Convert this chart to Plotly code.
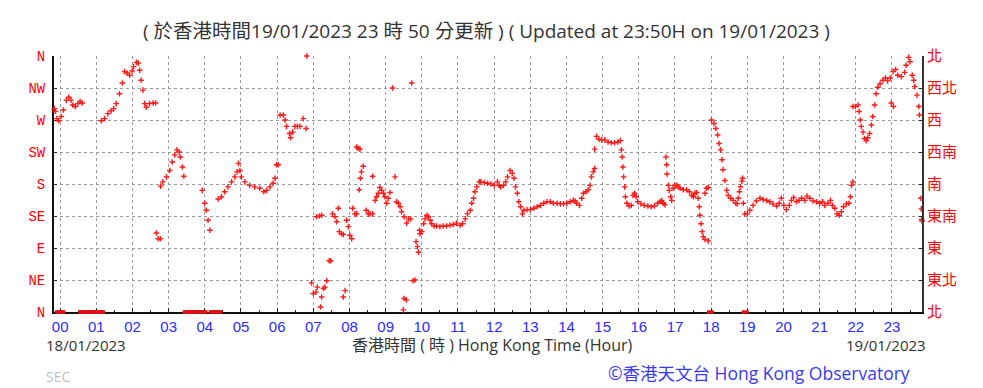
import plotly.graph_objects as go

# ---------------- data (hour of day, wind direction in degrees) ----------------
hours_a = [-0.16, -0.13, -0.09, -0.04, 0.03, 0.09, 0.17, 0.24, 0.30, 0.35, 0.42, 0.49, 0.55, 0.61]
dirs_a = [286, 282, 272, 269, 275, 284, 298, 302, 298, 291, 289, 293, 296, 294]

hours_b = [1.14, 1.23, 1.32, 1.41, 1.48, 1.55, 1.64, 1.72, 1.78, 1.85, 1.92, 1.99, 2.03, 2.11,
           2.16, 2.20, 2.24, 2.29, 2.34, 2.38, 2.47, 2.57, 2.64, 2.66, 2.71, 2.77]
dirs_b = [269, 272, 279, 283, 286, 293, 307, 322, 338, 336, 333, 339, 345, 351,
          350, 340, 326, 312, 293, 288, 293, 294, 294, 111, 103, 103]

hours_c = [2.78, 2.84, 2.94, 3.03, 3.10, 3.17, 3.23, 3.29, 3.32, 3.38, 3.42,
           3.93, 4.00, 4.04, 4.09, 4.14]
dirs_c = [177, 183, 190, 199, 211, 221, 228, 225, 218, 204, 191,
          171, 153, 143, 129, 115]

hours_e = [4.37, 4.46, 4.55, 4.64, 4.74, 4.83, 4.89, 4.93, 4.97, 5.01, 5.11, 5.24, 5.38, 5.52,
           5.63, 5.71, 5.80, 5.89, 5.94, 5.98, 6.03,
           6.08, 6.17, 6.22, 6.26, 6.34, 6.37, 6.43, 6.49, 6.56, 6.63, 6.72, 6.80, 6.82]
dirs_e = [159, 162, 169, 176, 183, 190, 197, 209, 199, 190, 183, 178, 176, 174,
          169, 171, 176, 181, 188, 207, 207,
          277, 277, 270, 261, 251, 245, 253, 261, 261, 261, 272, 258, 360]

hours_f = [6.95, 7.00, 7.07, 7.11, 7.20, 7.23, 7.28, 7.32, 7.37, 7.09, 7.17, 7.23, 7.44, 7.48,
           7.53, 7.60, 7.65, 7.69, 7.72, 7.78, 7.83, 7.83, 7.88, 7.92, 7.97, 8.01, 8.06,
           8.09, 8.15, 8.20, 8.20, 8.24, 8.29, 8.27, 8.30, 8.33, 8.38, 8.46, 8.52, 8.57, 8.64,
           8.64, 8.71, 8.75, 8.80, 8.84, 8.89, 8.94, 8.98, 9.03, 9.07, 9.12, 9.19, 9.26,
           9.30, 9.35, 9.40, 9.44, 9.51, 9.58, 9.63, 9.69, 9.49, 9.51, 9.57, 9.72,
           9.76, 9.81, 9.84, 9.88, 9.91, 9.94, 9.95]
dirs_f = [41, 26, 28, 35, 7, 21, 33, 35, 44, 134, 135, 136, 72, 72,
          138, 134, 127, 146, 113, 110, 109, 21, 30, 129, 120, 108, 103,
          146, 138, 138, 232, 230, 229, 172, 188, 197, 205, 143, 138, 138, 138,
          191, 157, 162, 167, 175, 171, 167, 162, 153, 160, 168, 315, 190,
          155, 153, 148, 141, 134, 125, 131, 131, 3, 19, 17, 322,
          44, 45, 99, 92, 84, 115, 110]

hours_g = [10.00, 10.05, 10.09, 10.14, 10.18, 10.23, 10.27, 10.34, 10.41, 10.50, 10.59, 10.68,
           10.78, 10.87, 10.96, 11.06, 11.13, 11.20, 11.26, 11.34, 11.38, 11.43, 11.47, 11.52,
           11.59, 11.63, 11.73, 11.82, 11.91, 12.00, 12.09, 12.14, 12.18, 12.26, 12.32, 12.37,
           12.44, 12.50, 12.55, 12.59, 12.64, 12.68, 12.73, 12.78, 12.82, 12.91, 13.00, 13.10,
           13.19, 13.28, 13.37, 13.46, 13.55, 13.64, 13.74, 13.83, 13.92, 14.01, 14.10, 14.19,
           14.24, 14.28, 14.36, 14.42, 14.47, 14.54, 14.60, 14.65, 14.69, 14.74, 14.78, 14.78]
dirs_g = [113, 124, 131, 136, 134, 129, 124, 121, 121, 120, 121, 121,
          122, 123, 125, 122, 124, 131, 138, 143, 153, 160, 169, 176,
          183, 183, 182, 181, 180, 178, 183, 178, 176, 178, 183, 190,
          199, 195, 188, 176, 167, 155, 148, 138, 143, 144, 144, 146,
          148, 150, 153, 155, 155, 153, 153, 152, 152, 153, 155, 157,
          156, 153, 150, 160, 167, 169, 172, 178, 190, 197, 202, 229]

hours_h = [14.83, 14.90, 14.97, 15.06, 15.15, 15.24, 15.33, 15.42, 15.49, 15.52, 15.54, 15.56,
           15.58, 15.61, 15.63, 15.67, 15.73, 15.79, 15.84, 15.88, 15.93, 15.97, 16.06, 16.15,
           16.25, 16.34, 16.43, 16.52, 16.59, 16.63, 16.68, 16.72, 16.75, 16.77, 16.78,
           16.82, 16.84, 16.88, 16.91, 16.95, 17.00, 17.05, 17.09, 17.14, 17.23, 17.32, 17.40,
           17.46, 17.51, 17.55, 17.60, 17.64, 17.67, 17.69, 17.72, 17.75, 17.78, 17.83, 17.92,
           17.83, 17.87, 17.92]
dirs_h = [247, 243, 242, 242, 239, 238, 238, 239, 241, 228, 218, 204,
          190, 176, 162, 153, 149, 150, 164, 167, 162, 155, 152, 150,
          149, 148, 149, 153, 155, 157, 153, 151, 218, 207, 194,
          178, 171, 162, 157, 174, 178, 178, 176, 174, 172, 172, 169,
          164, 162, 167, 168, 160, 148, 136, 124, 113, 106, 102, 100,
          167, 174, 175]

hours_i = [18.01, 18.08, 18.13, 18.18, 18.22, 18.26, 18.30, 18.33, 18.38, 18.43, 18.47, 18.54,
           18.61, 18.68, 18.72, 18.75, 18.78, 18.81, 18.85, 18.87, 18.89,
           18.93, 19.00, 19.07, 19.16, 19.25, 19.35, 19.44, 19.53, 19.62, 19.71, 19.81, 19.88,
           19.94, 20.01, 20.08, 20.16, 20.22, 20.28, 20.36, 20.43, 20.50, 20.59, 20.65, 20.73,
           20.82, 20.91, 21.00, 21.08, 21.14, 21.23, 21.30, 21.35, 21.42, 21.48, 21.54, 21.60,
           21.66, 21.74, 21.81, 21.85, 21.88, 21.92]
dirs_i = [270, 265, 258, 249, 237, 228, 214, 200, 185, 171, 164, 160,
          157, 153, 152, 160, 169, 176, 184, 188, 153,
          138, 138, 143, 150, 156, 160, 158, 157, 155, 152, 149, 153,
          160, 150, 144, 150, 157, 161, 155, 157, 160, 157, 163, 160,
          156, 155, 153, 155, 150, 153, 157, 150, 146, 138, 136, 141,
          148, 152, 153, 162, 178, 183]

hours_k = [21.92, 21.99, 22.06, 22.09, 22.12, 22.15, 22.20, 22.24, 22.29, 22.33, 22.38, 22.43,
           22.47, 22.52, 22.56, 22.61, 22.67, 22.75, 22.82, 22.88, 22.95, 22.98, 23.04,
           23.03, 23.10, 23.16, 23.26, 23.35, 23.39, 23.46, 23.50, 23.56, 23.60, 23.63, 23.69,
           23.74, 23.76, 23.80, 23.81, 23.82, 23.83]
dirs_k = [289, 289, 291, 282, 270, 261, 253, 244, 241, 245, 251, 263,
          275, 291, 307, 316, 321, 326, 329, 325, 329, 294, 289,
          338, 341, 333, 331, 337, 347, 358, 352, 333, 326, 317, 305,
          289, 277, 160, 145, 130, 128]

# calm periods (plotted at 0 degrees)
calm_hours = [-0.05, 0.00, 0.05,
              0.60, 0.65, 0.70, 0.75, 0.80, 0.85, 0.90, 0.95, 1.00, 1.05, 1.10, 1.15,
              3.48, 3.53, 3.58, 3.63, 3.68, 3.73, 3.78, 3.83, 3.88, 3.93, 3.98,
              4.20, 4.25, 4.30, 4.35, 4.39, 17.98, 18.94]
calm_dirs = [0] * len(calm_hours)

hour_labels = ["%02d" % h for h in range(24)]
dir_vals = [0, 45, 90, 135, 180, 225, 270, 315, 360]
dir_labels_en = ["N", "NE", "E", "SE", "S", "SW", "W", "NW", "N"]
dir_labels_zh = ["北", "東北", "東", "東南", "南", "西南", "西", "西北", "北"]

# ---------------- figure ----------------
all_h = hours_a + hours_b + hours_c + hours_e + hours_f + hours_g + hours_h + hours_i + hours_k
all_d = dirs_a + dirs_b + dirs_c + dirs_e + dirs_f + dirs_g + dirs_h + dirs_i + dirs_k

RED = "#ff1a1a"
fig = go.Figure()
fig.add_trace(go.Scatter(
    x=all_h, y=all_d, mode="markers", cliponaxis=False,
    marker=dict(symbol="cross-thin", size=4, line=dict(width=1.4, color=RED)),
    showlegend=False))
fig.add_trace(go.Scatter(
    x=calm_hours, y=calm_dirs, mode="markers", cliponaxis=False,
    marker=dict(symbol="line-ew", size=5, line=dict(width=3.5, color="#dd1111")),
    hoverinfo="skip", showlegend=False))
# invisible trace to carry the right-hand axis
fig.add_trace(go.Scatter(x=[0], y=[0], yaxis="y2", mode="markers",
                         marker=dict(opacity=0), hoverinfo="skip", showlegend=False))

XR = [-0.17, 23.83]
grid = dict(showgrid=True, gridcolor="#9a9a9a", gridwidth=1, griddash="dot")

fig.update_layout(
    width=983, height=388,
    margin=dict(l=54, r=61, t=56, b=76),
    paper_bgcolor="white", plot_bgcolor="white",
    xaxis=dict(range=XR, tickmode="array", tickvals=list(range(24)), ticktext=hour_labels,
               tickfont=dict(family="Liberation Sans, Arial, sans-serif", size=15, color="#2b2bff"),
               ticks="inside", ticklen=4, tickcolor="#222", tickwidth=1,
               minor=dict(tickmode="array", tickvals=[h + 0.5 for h in range(24)],
                          ticks="inside", ticklen=2, tickcolor="#222", showgrid=False),
               showline=True, linecolor="#111", linewidth=2, zeroline=False,
               layer="below traces", **grid),
    yaxis=dict(range=[0, 360], tickmode="array", tickvals=dir_vals, ticktext=dir_labels_en,
               tickfont=dict(family="Liberation Mono, Courier New, monospace", size=14, color="#ff0000"),
               ticks="inside", ticklen=3, tickcolor="#222",
               showline=True, linecolor="#111", linewidth=2, zeroline=False,
               ticklabelstandoff=4, layer="below traces", **grid),
    yaxis2=dict(range=[0, 360], overlaying="y", side="right", tickmode="array",
                tickvals=dir_vals, ticktext=dir_labels_zh,
                tickfont=dict(family="Noto Sans CJK TC, sans-serif", size=15, color="#ff0000"),
                ticks="inside", ticklen=3, tickcolor="#222", showgrid=False,
                showline=True, linecolor="#333", linewidth=2, zeroline=False),
)

W = 983 - 54 - 61
H = 388 - 56 - 76


def px(x, y):
    return (x - 54) / W, (312 - y) / H


def cjk(s):
    return '<span style="font-size:19.5px">%s</span>' % s


title = ("( " + cjk("於香港時間") + "19/01/2023 23 " + cjk("時") + " 50 " + cjk("分更新")
         + " ) ( Updated at 23:50H on 19/01/2023 )")

ann = [
    dict(text=title, pos=(486, 30), xanchor="center",
         font=dict(family="Open Sans, Noto Sans CJK TC, sans-serif", size=19, color="#333333")),
    dict(text="18/01/2023", pos=(44, 345), xanchor="left",
         font=dict(family="Open Sans, sans-serif", size=15, color="#333333")),
    dict(text="香港時間 ( 時 ) Hong Kong Time (Hour)", pos=(493, 345), xanchor="center",
         font=dict(family="Open Sans, Noto Sans CJK TC, sans-serif", size=16, color="#333333")),
    dict(text="19/01/2023", pos=(928, 345), xanchor="right",
         font=dict(family="Open Sans, sans-serif", size=15, color="#333333")),
    dict(text="SEC", pos=(44, 376), xanchor="left",
         font=dict(family="Open Sans, sans-serif", size=14, color="#c0c0c0")),
    dict(text="©香港天文台 Hong Kong Observatory", pos=(912, 373), xanchor="right",
         font=dict(family="Open Sans, Noto Sans CJK TC, sans-serif", size=17.5, color="#3a3af0")),
]
for a in ann:
    x, y = px(*a["pos"])
    fig.add_annotation(text=a["text"], x=x, y=y, xref="paper", yref="paper",
                       xanchor=a["xanchor"], yanchor="middle", showarrow=False, font=a["font"])

fig.write_html("out.html")
